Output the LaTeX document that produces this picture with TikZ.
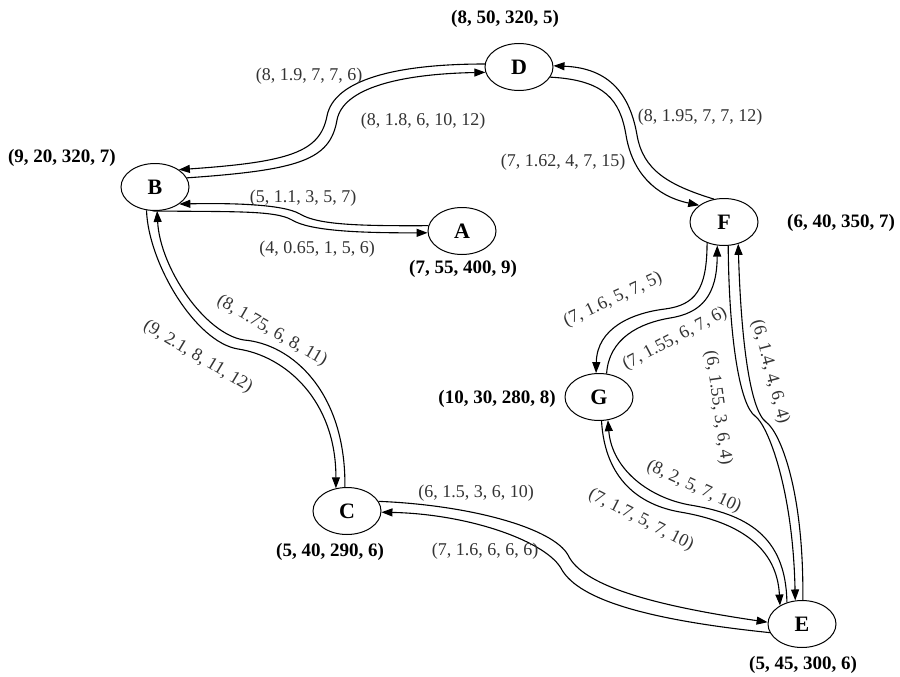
\documentclass[tikz,border=0pt]{standalone}
\usepackage{fontspec}
\setmainfont{Liberation Serif}
\usetikzlibrary{shapes.geometric,arrows.meta}
\begin{document}
\begin{tikzpicture}[x=1pt,y=-1pt,
  state/.style={ellipse,draw,line width=1pt,minimum width=68pt,minimum height=47pt,inner sep=0pt,font=\fontsize{22}{24}\selectfont\bfseries},
  info/.style={font=\fontsize{19}{21}\selectfont\bfseries,inner sep=0pt},
  elab/.style={font=\fontsize{18}{20}\selectfont,text=black!80,inner sep=0pt},
  conn/.style={line width=1.1pt,-{Triangle[length=11pt,width=8pt]}}]
\useasboundingbox (0,0) rectangle (900,677);
\fill[white] (0,0) rectangle (900,677);

% states
\node[state] (A) at (462,231) {A};
\node[state] (B) at (155,187) {B};
\node[state] (C) at (347,511) {C};
\node[state] (D) at (519,67) {D};
\node[state] (E) at (802,624) {E};
\node[state] (F) at (724,222) {F};
\node[state] (G) at (599,397) {G};

% state data
\node[info] (iD) at (505,19) {(8, 50, 320, 5)};
\node[info] (iB) at (62,158) {(9, 20, 320, 7)};
\node[info] (iA) at (463,269) {(7, 55, 400, 9)};
\node[info] (iF) at (841,223) {(6, 40, 350, 7)};
\node[info] (iG) at (497,399) {(10, 30, 280, 8)};
\node[info] (iC) at (330,552) {(5, 40, 290, 6)};
\node[info] (iE) at (803,665) {(5, 45, 300, 6)};

% B - D
\draw[conn] (B.16) .. controls (300,170) and (330,160) .. (337,120) .. controls (343,88) and (400,74) .. (D.189);
\draw[conn] (D.175) .. controls (395,64) and (334,80) .. (327,116) .. controls (320,152) and (290,162) .. (B.36);
\node[elab] (lBD1) at (309,76) {(8, 1.9, 7, 7, 6)};
\node[elab] (lBD2) at (423,121) {(8, 1.8, 6, 10, 12)};

% B - A
\draw[conn] (B.264) .. controls (230,212) and (275,210) .. (292,220) .. controls (310,231) and (360,233) .. (A.183);
\draw[conn] (A.171) .. controls (360,226) and (318,225) .. (300,214) .. controls (283,204) and (230,203) .. (B.325);
\node[elab] (lBA1) at (303,198) {(5, 1.1, 3, 5, 7)};
\node[elab] (lBA2) at (317,249) {(4, 0.65, 1, 5, 6)};

% B - C
\draw[conn] (B.250) .. controls (148,262) and (195,342) .. (238,349) .. controls (285,356) and (336,400) .. (C.116);
\draw[conn] (C.95) .. controls (346,392) and (292,344) .. (244,340) .. controls (205,334) and (160,268) .. (B.275);
\node[elab,rotate=-30] (lBC1) at (272,331) {(8, 1.75, 6, 8, 11)};
\node[elab,rotate=-31] (lBC2) at (198,357) {(9, 2.1, 8, 11, 12)};

% D - F
\draw[conn] (D.342) .. controls (605,80) and (620,100) .. (626,135) .. controls (632,172) and (655,196) .. (F.146);
\draw[conn] (F.114) .. controls (668,185) and (643,170) .. (637,135) .. controls (630,95) and (610,68) .. (D.2);
\node[elab] (lDF1) at (700,117) {(8, 1.95, 7, 7, 12)};
\node[elab] (lDF2) at (563,162) {(7, 1.62, 4, 7, 15)};

% F - G
\draw[conn] (F.231) .. controls (707,290) and (695,305) .. (665,309) .. controls (632,313) and (597,328) .. (G.97);
\draw[conn] (G.72) .. controls (609,338) and (640,323) .. (670,318) .. controls (702,313) and (717,295) .. (F.254);
\node[elab,rotate=25] (lFG1) at (613,300) {(7, 1.6, 5, 7, 5)};
\node[elab,rotate=28] (lFG2) at (675,339) {(7, 1.55, 6, 7, 6)};

% F - E
\draw[conn] (F.280) .. controls (729,340) and (740,405) .. (755,416) .. controls (768,425) and (793,490) .. (E.106);
\draw[conn] (E.88) .. controls (804,490) and (780,432) .. (766,422) .. controls (750,410) and (741,340) .. (F.303);
\node[elab,rotate=-75] (lFE1) at (770,372) {(6, 1.4, 4, 6, 4)};
\node[elab,rotate=-82] (lFE2) at (718,408) {(6, 1.55, 3, 6, 4)};

% G - E
\draw[conn] (G.276) .. controls (605,480) and (640,505) .. (680,512) .. controls (740,522) and (777,548) .. (E.140);
\draw[conn] (E.125) .. controls (786,535) and (745,514) .. (690,505) .. controls (650,498) and (612,470) .. (G.291);
\node[elab,rotate=-25] (lGE1) at (694,487) {(8, 2, 5, 7, 10)};
\node[elab,rotate=-27] (lGE2) at (641,520) {(7, 1.7, 5, 7, 10)};

% C - E
\draw[conn] (C.17) .. controls (470,505) and (553,528) .. (568,555) .. controls (582,585) and (650,605) .. (E.177);
\draw[conn] (E.195) .. controls (648,620) and (580,600) .. (562,570) .. controls (548,542) and (470,514) .. (C.358);
\node[elab] (lCE1) at (476,493) {(6, 1.5, 3, 6, 10)};
\node[elab] (lCE2) at (485,551) {(7, 1.6, 6, 6, 6)};
\end{tikzpicture}
\end{document}
